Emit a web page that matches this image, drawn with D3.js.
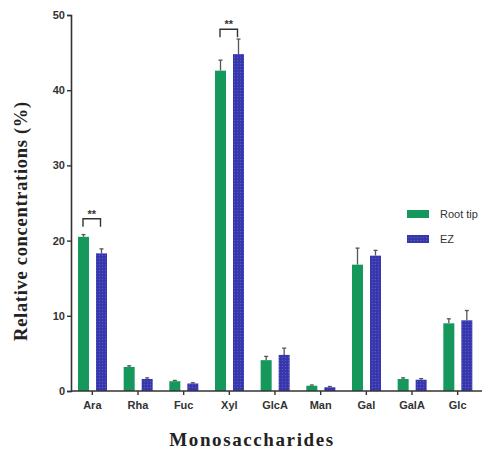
<!DOCTYPE html>
<html><head><meta charset="utf-8">
<script src="https://cdn.jsdelivr.net/npm/d3@7"></script>
<style>body{margin:0;background:#fff}svg{display:block}</style>
</head><body>
<script>
const categories = ["Ara","Rha","Fuc","Xyl","GlcA","Man","Gal","GalA","Glc"];
const seriesNames = ["Root tip","EZ"];
const rootTip = [20.5, 3.2, 1.3, 42.6, 4.1, 0.7, 16.8, 1.6, 9.0];
const rootTipErr = [0.3, 0.15, 0.1, 1.4, 0.5, 0.1, 2.2, 0.15, 0.6];
const ez = [18.3, 1.6, 1.0, 44.8, 4.8, 0.5, 18.0, 1.5, 9.4];
const ezErr = [0.6, 0.15, 0.1, 2.0, 0.9, 0.1, 0.7, 0.15, 1.3];
const yTicks = [0,10,20,30,40,50];
const significance = [{cat:"Ara", label:"**", level:22.9}, {cat:"Xyl", label:"**", level:48.1}];

const colors = {"Root tip":"#16975c","EZ":"#3a3ab0"};
const W=496,H=457;
const svg=d3.select("body").append("svg").attr("width",W).attr("height",H);

const defs=svg.append("defs");
const pat=defs.append("pattern").attr("id","hatch").attr("width",3).attr("height",3).attr("patternUnits","userSpaceOnUse");
pat.append("rect").attr("width",3).attr("height",3).attr("fill","#3a3ab0");
pat.append("rect").attr("width",1).attr("height",1).attr("fill","#5656c8");
pat.append("rect").attr("x",1.5).attr("y",1.5).attr("width",1).attr("height",1).attr("fill","#2c2c98");

const x=d3.scaleBand().domain(categories).range([69.5,480.5]).paddingInner(0).paddingOuter(0);
const xs=d3.scaleBand().domain(seriesNames).range([8.5,37.5]).paddingInner(0.389).paddingOuter(0);
const y=d3.scaleLinear().domain([0,50]).range([391,15]);

const data=[];
categories.forEach((c,i)=>{
  data.push({cat:c,s:"Root tip",v:rootTip[i],e:rootTipErr[i]});
  data.push({cat:c,s:"EZ",v:ez[i],e:ezErr[i]});
});

// error bars
const eg=svg.append("g").attr("stroke","#555").attr("stroke-width",1.3);
data.forEach(d=>{
  const cx=x(d.cat)+xs(d.s)+xs.bandwidth()/2;
  eg.append("line").attr("x1",cx).attr("x2",cx).attr("y1",y(d.v)).attr("y2",y(d.v+d.e));
  eg.append("line").attr("x1",cx-2).attr("x2",cx+2).attr("y1",y(d.v+d.e)).attr("y2",y(d.v+d.e));
});

svg.append("g").selectAll("rect").data(data).join("rect")
  .attr("x",d=>x(d.cat)+xs(d.s)).attr("width",xs.bandwidth())
  .attr("y",d=>y(d.v)).attr("height",d=>y(0)-y(d.v))
  .attr("fill",d=>d.s==="EZ"?"url(#hatch)":colors[d.s]);

// axes
const yAxis=svg.append("g").attr("transform","translate(71,0)")
  .call(d3.axisLeft(y).tickValues(yTicks).tickSize(4).tickPadding(2));
const xAxis=svg.append("g").attr("transform","translate(0,391)")
  .call(d3.axisBottom(x).tickSize(4).tickPadding(6).tickSizeOuter(0));
[yAxis,xAxis].forEach(a=>{
  a.select(".domain").attr("stroke","#333").attr("stroke-width",1.6);
  a.selectAll(".tick line").attr("stroke","#333").attr("stroke-width",1.4);
  a.selectAll("text").attr("font-family","Arial, 'Liberation Sans', sans-serif").attr("font-weight","bold").attr("font-size",11).attr("fill","#333");
});
xAxis.select(".domain").attr("d","M71,0H482");

// significance
significance.forEach(s=>{
  const x1=x(s.cat)+xs("Root tip")+xs.bandwidth()/2-0.5, x2=x(s.cat)+xs("EZ")+xs.bandwidth()/2-1;
  const yl=y(s.level);
  svg.append("path").attr("d",`M${x1},${yl+8}V${yl}H${x2}V${yl+8}`).attr("fill","none").attr("stroke","#333").attr("stroke-width",1.4);
  svg.append("text").attr("x",(x1+x2)/2).attr("y",yl-1).attr("text-anchor","middle")
    .attr("font-family","Arial, sans-serif").attr("font-weight","bold").attr("font-size",11).attr("fill","#333").text(s.label);
});

// legend
const lg=svg.append("g");
seriesNames.forEach((s,i)=>{
  const ly=210+i*25;
  lg.append("rect").attr("x",407).attr("y",ly).attr("width",22).attr("height",8).attr("fill",s==="EZ"?"url(#hatch)":colors[s]);
  lg.append("text").attr("x",440).attr("y",ly+4).attr("dy","0.35em").attr("font-family","Arial, 'Liberation Sans', sans-serif")
    .attr("font-size",11).attr("fill","#333").text(s);
});

// axis titles
svg.append("text").attr("x",252).attr("y",446).attr("text-anchor","middle")
  .attr("font-family","'Liberation Serif','DejaVu Serif',serif").attr("font-weight","bold").attr("font-size",19)
  .attr("letter-spacing",1.6).attr("fill","#222").text("Monosaccharides");
svg.append("text").attr("transform","translate(27,221) rotate(-90)").attr("text-anchor","middle")
  .attr("font-family","'Liberation Serif','DejaVu Serif',serif").attr("font-weight","bold").attr("font-size",18.5)
  .attr("letter-spacing",0.7).attr("fill","#222").text("Relative concentrations (%)");
</script>
</body></html>
